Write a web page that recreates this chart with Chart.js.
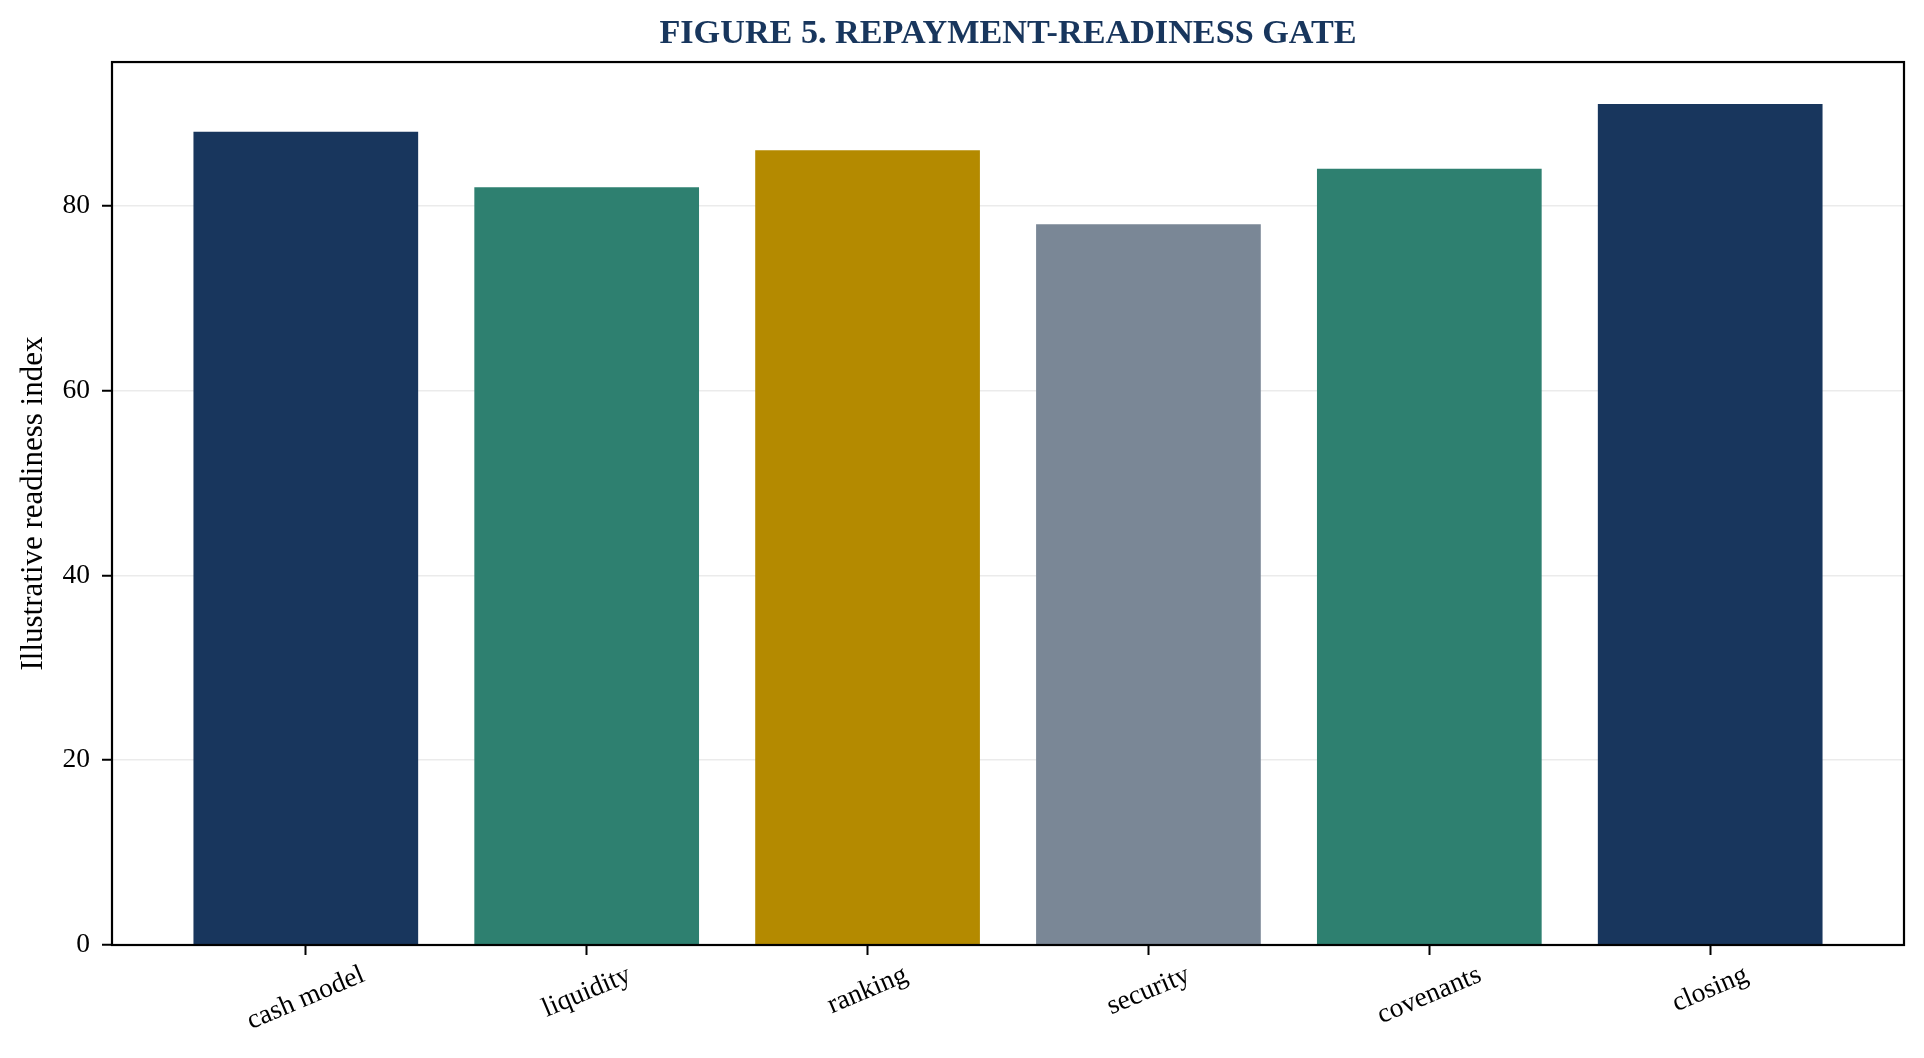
<!DOCTYPE html>
<html>
<head>
<meta charset="utf-8">
<title>Figure 5. Repayment-readiness gate</title>
<script src="https://cdn.jsdelivr.net/npm/chart.js@4.4.1/dist/chart.umd.min.js"></script>
<style>
  html, body { margin: 0; padding: 0; background: #fff; }
  canvas { display: block; }
</style>
</head>
<body>
<canvas id="gateChart" width="1924" height="1058"></canvas>
<script>
// data
const categories = ["cash model", "liquidity", "ranking", "security", "covenants", "closing"];
const readiness = [88, 82, 86, 78, 84, 91];
const barColors = ["#18365d", "#2e8070", "#b48a00", "#7a8796", "#2e8070", "#18365d"];
const yTicks = [0, 20, 40, 60, 80];

const SERIF = "'Liberation Serif', 'Times New Roman', 'DejaVu Serif', serif";
const NAVY = "#18365d";
const LABEL_ANGLE = 23;
const yMax = Math.max(...readiness) * 1.05;

// x labels: slanted, centred under each tick (matplotlib style)
const slantedLabels = {
  id: "slantedLabels",
  afterDraw(chart) {
    const xs = chart.scales.x;
    const ctx = chart.ctx;
    const size = 27.5;
    const rad = LABEL_ANGLE * Math.PI / 180;
    ctx.save();
    ctx.font = size + "px " + SERIF;
    ctx.fillStyle = "#000";
    ctx.textAlign = "center";
    ctx.textBaseline = "middle";
    xs.ticks.forEach(t => {
      const label = categories[t.value];
      const w = ctx.measureText(label).width;
      const h = w * Math.sin(rad) + size * 1.1 * Math.cos(rad);
      const cx = xs.getPixelForValue(t.value);
      const cy = chart.chartArea.bottom + 15 + h / 2;
      ctx.save();
      ctx.translate(cx, cy);
      ctx.rotate(-rad);
      ctx.fillText(label, 0, 0);
      ctx.restore();
    });
    ctx.restore();
  }
};

// box around the plot area
const frame = {
  id: "frame",
  afterDraw(chart) {
    const {left, top, width, height} = chart.chartArea;
    const ctx = chart.ctx;
    ctx.save();
    ctx.strokeStyle = "#000";
    ctx.lineWidth = 2.2;
    ctx.strokeRect(left, top, width, height);
    ctx.restore();
  }
};

new Chart(document.getElementById("gateChart"), {
  type: "bar",
  data: {
    datasets: [{
      data: readiness.map((v, i) => ({ x: i, y: v })),
      backgroundColor: barColors,
      borderWidth: 0,
      barPercentage: 0.8,
      categoryPercentage: 1.0
    }]
  },
  options: {
    responsive: false,
    devicePixelRatio: 1,
    animation: false,
    layout: { padding: { left: 0, right: 20, top: 0, bottom: 0 } },
    plugins: {
      legend: { display: false },
      tooltip: { enabled: false },
      title: {
        display: true,
        fullSize: false,
        text: "FIGURE 5. REPAYMENT-READINESS GATE",
        color: NAVY,
        font: { family: SERIF, size: 34.2, weight: "bold" },
        padding: { top: 14, bottom: 7 }
      }
    },
    scales: {
      x: {
        type: "linear",
        min: -0.69,
        max: 5.69,
        offset: false,
        afterBuildTicks: axis => { axis.ticks = categories.map((c, i) => ({ value: i })); },
        afterFit: axis => { axis.height = 113; },
        ticks: { display: false },
        grid: { offset: false, drawOnChartArea: false, drawTicks: true, tickLength: 10, tickWidth: 2, tickColor: "#000" },
        border: { display: false }
      },
      y: {
        min: 0,
        max: yMax,
        z: 1,
        afterBuildTicks: axis => { axis.ticks = yTicks.map(v => ({ value: v })); },
        afterFit: axis => { axis.width = 112; },
        ticks: { font: { family: SERIF, size: 27.5 }, color: "#000", padding: 12 },
        grid: { color: "rgba(190,190,190,0.3)", lineWidth: 1.5, tickColor: "#000", tickWidth: 2, tickLength: 10 },
        border: { display: false },
        title: {
          display: true,
          text: "Illustrative readiness index",
          color: "#000",
          font: { family: SERIF, size: 31 },
          padding: { top: 15, bottom: 0 }
        }
      }
    }
  },
  plugins: [slantedLabels, frame]
});
</script>
</body>
</html>
